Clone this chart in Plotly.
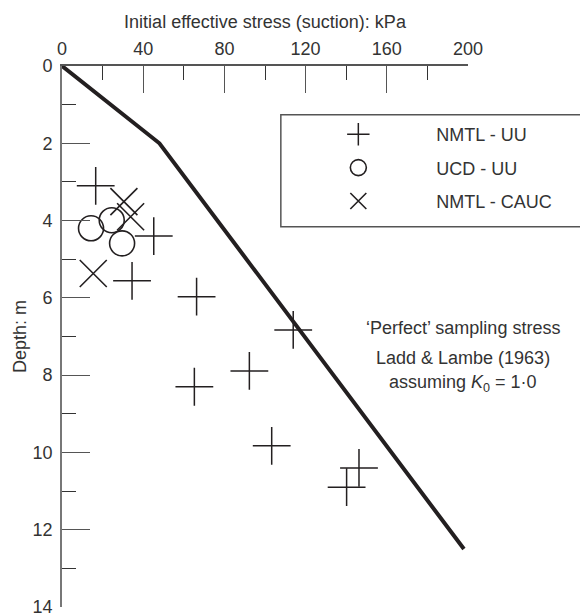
import plotly.graph_objects as go

# Data
nmtl_uu_stress = [16.6, 45.2, 34.5, 66.3, 113.9, 92.3, 65.2, 103.3, 146.3, 140.2]
nmtl_uu_depth = [3.10, 4.40, 5.56, 5.97, 6.83, 7.89, 8.30, 9.83, 10.40, 10.90]

ucd_uu_stress = [14.3, 24.5, 29.6]
ucd_uu_depth = [4.20, 3.99, 4.59]

nmtl_cauc_stress = [30.5, 33.8, 15.4]
nmtl_cauc_depth = [3.51, 3.90, 5.37]

perfect_stress = [0, 48, 198]
perfect_depth = [0, 2.0, 12.5]

x_ticks = [0, 40, 80, 120, 160, 200]
y_ticks = [0, 2, 4, 6, 8, 10, 12, 14]

FONT = "Liberation Sans, Arial, Helvetica, sans-serif"
INK = "#231f20"

fig = go.Figure()

fig.add_trace(go.Scatter(
    x=perfect_stress, y=perfect_depth, mode="lines",
    line=dict(color=INK, width=4), showlegend=False, hoverinfo="skip"))

fig.add_trace(go.Scatter(
    x=nmtl_uu_stress, y=nmtl_uu_depth, mode="markers", name="NMTL - UU",
    legendgroup="a",
    marker=dict(symbol="cross-thin", size=27, color=INK,
                line=dict(color=INK, width=1.5))))

fig.add_trace(go.Scatter(
    x=ucd_uu_stress, y=ucd_uu_depth, mode="markers", name="UCD - UU",
    legendgroup="b",
    marker=dict(symbol="circle-open", size=25, color=INK,
                line=dict(color=INK, width=1.6))))

fig.add_trace(go.Scatter(
    x=nmtl_cauc_stress, y=nmtl_cauc_depth, mode="markers", name="NMTL - CAUC",
    legendgroup="c",
    marker=dict(symbol="x-thin", size=27, color=INK,
                line=dict(color=INK, width=1.6))))

# The page body has an 8px margin; work in reference pixel coordinates
OFF = 8
W, H = 588 - OFF, 616 - OFF
L, T, R, B = 62 - OFF, 66 - OFF, 468.3 - OFF, 607 - OFF
PW, PH = R - L, B - T

def px_x(p):
    return (p - OFF - L) / PW

def px_y(p):
    return 1 - (p - OFF - T) / PH

fig.add_shape(type="rect", xref="paper", yref="paper",
              x0=px_x(281), x1=px_x(600), y0=px_y(226.7), y1=px_y(114.7),
              line=dict(color="#555", width=1.5), fillcolor="rgba(0,0,0,0)")

ann_lines = ["\u2018Perfect\u2019 sampling stress",
             "Ladd & Lambe (1963)",
             "assuming <i>K</i><sub>0</sub> = 1\u00b70"]
ann_y = [328, 358, 383]
for t, yy in zip(ann_lines, ann_y):
    fig.add_annotation(text=t, xref="paper", yref="paper",
                       x=px_x(463), y=px_y(yy), xanchor="center", yanchor="middle",
                       showarrow=False, font=dict(family=FONT, size=18, color="#333"))

fig.update_layout(
    width=W, height=H,
    margin=dict(l=L, r=W - R, t=T, b=H - B, autoexpand=False),
    paper_bgcolor="white", plot_bgcolor="white",
    font=dict(family=FONT, size=18, color="#333"),
    legend=dict(x=px_x(280.5), y=px_y(116), xanchor="left", yanchor="top",
                bgcolor="rgba(0,0,0,0)", borderwidth=0,
                itemwidth=146, traceorder="grouped", tracegroupgap=7,
                font=dict(family=FONT, size=18, color="#333")),
    xaxis=dict(
        side="top", range=[0, 200], tickvals=x_ticks, ticktext=[str(v) for v in x_ticks],
        ticks="inside", ticklen=27, tickwidth=1.3, tickcolor="#555",
        minor=dict(ticks="inside", dtick=20, ticklen=14, tickwidth=1.3, tickcolor="#333"),
        showline=True, linecolor="#555", linewidth=1.5, showgrid=False, zeroline=False,
        ticklabelstandoff=2, ticklabeloverflow="allow",
        title=dict(text="Initial effective stress (suction): kPa", standoff=6,
                   font=dict(family=FONT, size=18, color="#333")),
        automargin=False, mirror=False),
    yaxis=dict(
        range=[14, 0], tickvals=y_ticks, ticktext=[str(v) for v in y_ticks],
        ticks="inside", ticklen=28, tickwidth=1.3, tickcolor="#555",
        minor=dict(ticks="inside", dtick=1, ticklen=14, tickwidth=1.3, tickcolor="#333"),
        showline=True, linecolor="#777", linewidth=1.8, showgrid=False, zeroline=False,
        ticklabelstandoff=4, ticklabeloverflow="allow",
        title=dict(text="Depth: m", standoff=1,
                   font=dict(family=FONT, size=18, color="#333")),
        automargin=False),
)

fig.write_html("out.html")
